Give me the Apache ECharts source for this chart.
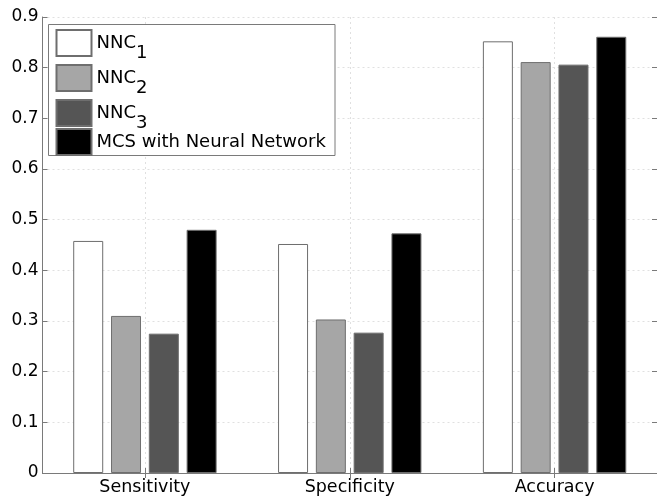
<!DOCTYPE html>
<html>
<head>
<meta charset="utf-8">
<script src="https://cdn.jsdelivr.net/npm/echarts@6/dist/echarts.min.js"></script>
<style>
  html, body { margin: 0; padding: 0; background: #fff; }
  #chart { width: 657px; height: 500px; }
</style>
</head>
<body>
<div id="chart"></div>
<script>
// Classification metrics per method
const categories = ['Sensitivity', 'Specificity', 'Accuracy'];
const seriesNames = ['NNC1', 'NNC2', 'NNC3', 'MCS with Neural Network'];
const nnc1 = [0.458, 0.452, 0.852];
const nnc2 = [0.310, 0.303, 0.811];
const nnc3 = [0.275, 0.277, 0.806];
const mcs = [0.480, 0.473, 0.861];
const yTicks = ['0', '0.1', '0.2', '0.3', '0.4', '0.5', '0.6', '0.7', '0.8', '0.9'];

const seriesValues = [nnc1, nnc2, nnc3, mcs];
const fills = ['#ffffff', '#a6a6a6', '#555555', '#000000'];
const FONT = 'DejaVu Sans';
const AXIS_GRAY = '#7a7a7a';
const GRID_LINE = { color: '#e0e0e0', width: 1, type: [2, 3] };

const chart = echarts.init(document.getElementById('chart'), null, { renderer: 'canvas' });

// top axis: 7 slots so that odd slots sit at the group centres
const topSlots = ['', '', '', '', '', '', ''];
const oddOnly = (idx) => idx % 2 === 1;

const legendText = {
  fontFamily: FONT,
  fontSize: 18,
  color: '#000',
  rich: {
    n: { fontFamily: FONT, fontSize: 18, lineHeight: 18, verticalAlign: 'top', color: '#000' },
    s: { fontFamily: FONT, fontSize: 18, lineHeight: 18, padding: [10, 0, 4, 0], verticalAlign: 'top', color: '#000' }
  }
};
const legendFormatter = (name) =>
  name.startsWith('NNC') ? '{n|NNC}{s|' + name.slice(3) + '}' : name;

chart.setOption({
  animation: false,
  backgroundColor: '#ffffff',
  grid: { left: 42.5, right: -2, top: 17, bottom: 27, containLabel: false },
  xAxis: [
    {
      type: 'category',
      position: 'bottom',
      data: categories,
      axisLine: { show: true, lineStyle: { color: AXIS_GRAY, width: 1 } },
      axisTick: { show: true, inside: true, length: 5, alignWithLabel: true, lineStyle: { color: AXIS_GRAY } },
      axisLabel: { color: '#000', fontFamily: FONT, fontSize: 17.5, margin: 5 },
      splitLine: { show: false }
    },
    {
      type: 'category',
      position: 'top',
      boundaryGap: false,
      data: topSlots,
      axisLine: { show: true, lineStyle: { color: AXIS_GRAY, width: 1 } },
      axisTick: { show: true, inside: true, length: 5, interval: oddOnly, lineStyle: { color: AXIS_GRAY } },
      axisLabel: { show: false },
      splitLine: { show: true, interval: oddOnly, lineStyle: GRID_LINE }
    }
  ],
  yAxis: [
    {
      type: 'value',
      position: 'left',
      min: 0,
      max: 0.9,
      interval: 0.1,
      axisLine: { show: true, lineStyle: { color: AXIS_GRAY, width: 1 } },
      axisTick: { show: true, inside: true, length: 5, lineStyle: { color: AXIS_GRAY } },
      axisLabel: {
        color: '#000', fontFamily: FONT, fontSize: 17, margin: 4,
        formatter: (v) => yTicks[Math.round(v * 10)]
      },
      splitLine: { show: true, lineStyle: GRID_LINE }
    },
    {
      type: 'value',
      position: 'right',
      min: 0,
      max: 0.9,
      interval: 0.1,
      axisLine: { show: true, lineStyle: { color: AXIS_GRAY, width: 1 } },
      axisTick: { show: true, inside: true, length: 5, lineStyle: { color: AXIS_GRAY } },
      axisLabel: { show: false },
      splitLine: { show: false }
    }
  ],
  legend: [
    {
      z: 10,
      orient: 'vertical',
      left: 55.5,
      top: 29,
      padding: 0,
      itemGap: -2,
      itemWidth: 35,
      itemHeight: 26,
      icon: 'rect',
      selectedMode: false,
      data: seriesNames.slice(0, 3),
      formatter: legendFormatter,
      textStyle: legendText
    },
    {
      z: 10,
      orient: 'vertical',
      left: 55.5,
      top: 128,
      padding: 0,
      itemWidth: 35,
      itemHeight: 26,
      icon: 'rect',
      selectedMode: false,
      data: seriesNames.slice(3),
      textStyle: { fontFamily: FONT, fontSize: 18, color: '#000' }
    }
  ],
  graphic: [
    {
      type: 'rect',
      z: 5,
      shape: { x: 48.5, y: 24.5, width: 286.5, height: 131 },
      style: { fill: '#ffffff', stroke: AXIS_GRAY, lineWidth: 1 }
    }
  ],
  series: seriesNames.map((name, i) => ({
    name: name,
    type: 'bar',
    xAxisIndex: 0,
    yAxisIndex: 0,
    data: seriesValues[i],
    barWidth: 30,
    barGap: '26%',
    itemStyle: { color: fills[i], borderColor: '#6e6e6e', borderWidth: 1 },
    emphasis: { disabled: true }
  }))
});
</script>
</body>
</html>
